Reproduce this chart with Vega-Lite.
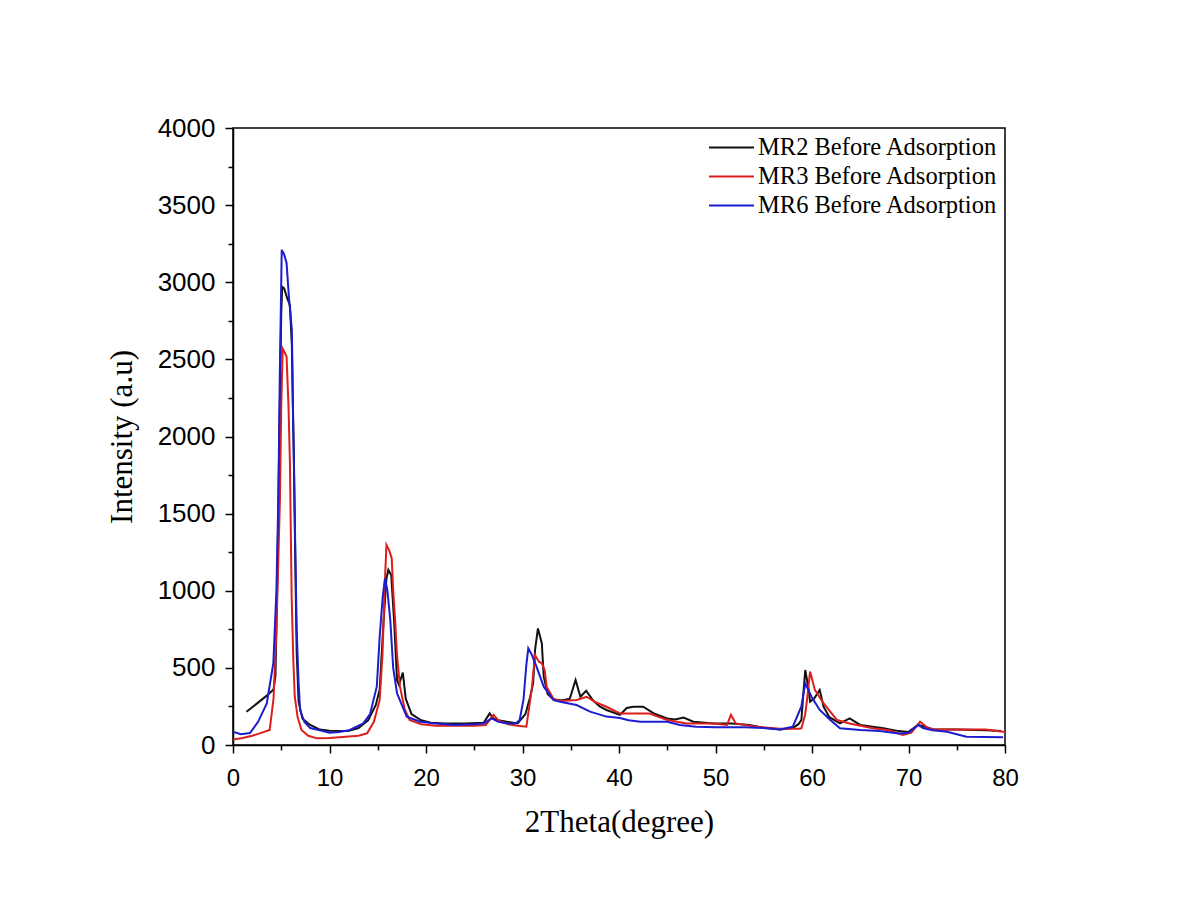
{
  "$schema": "https://vega.github.io/schema/vega-lite/v6.json",
  "width": 772,
  "height": 617,
  "autosize": {"type": "none"},
  "padding": {"left": 233, "top": 128, "right": 173, "bottom": 159},
  "background": "white",
  "config": {
    "view": {"stroke": "black", "strokeWidth": 1.5},
    "axis": {"grid": false, "labelColor": "black", "titleColor": "black", "domainColor": "black", "tickColor": "black"}
  },
  "data": {
    "values": [
      {"series": "MR2 Before Adsorption", "theta": 1.4, "intensity": 215},
      {"series": "MR2 Before Adsorption", "theta": 2.5, "intensity": 270},
      {"series": "MR2 Before Adsorption", "theta": 3.5, "intensity": 320},
      {"series": "MR2 Before Adsorption", "theta": 4.2, "intensity": 360},
      {"series": "MR2 Before Adsorption", "theta": 4.4, "intensity": 450},
      {"series": "MR2 Before Adsorption", "theta": 4.6, "intensity": 1100},
      {"series": "MR2 Before Adsorption", "theta": 4.8, "intensity": 2000},
      {"series": "MR2 Before Adsorption", "theta": 5.0, "intensity": 2800},
      {"series": "MR2 Before Adsorption", "theta": 5.1, "intensity": 2970},
      {"series": "MR2 Before Adsorption", "theta": 5.3, "intensity": 2960},
      {"series": "MR2 Before Adsorption", "theta": 5.6, "intensity": 2900},
      {"series": "MR2 Before Adsorption", "theta": 5.9, "intensity": 2850},
      {"series": "MR2 Before Adsorption", "theta": 6.1, "intensity": 2590},
      {"series": "MR2 Before Adsorption", "theta": 6.2, "intensity": 2200},
      {"series": "MR2 Before Adsorption", "theta": 6.3, "intensity": 1910},
      {"series": "MR2 Before Adsorption", "theta": 6.45, "intensity": 1200},
      {"series": "MR2 Before Adsorption", "theta": 6.6, "intensity": 600},
      {"series": "MR2 Before Adsorption", "theta": 6.8, "intensity": 280},
      {"series": "MR2 Before Adsorption", "theta": 7.2, "intensity": 170},
      {"series": "MR2 Before Adsorption", "theta": 8, "intensity": 130},
      {"series": "MR2 Before Adsorption", "theta": 9, "intensity": 100},
      {"series": "MR2 Before Adsorption", "theta": 10, "intensity": 92},
      {"series": "MR2 Before Adsorption", "theta": 11, "intensity": 90},
      {"series": "MR2 Before Adsorption", "theta": 12, "intensity": 92},
      {"series": "MR2 Before Adsorption", "theta": 13, "intensity": 110},
      {"series": "MR2 Before Adsorption", "theta": 14, "intensity": 160},
      {"series": "MR2 Before Adsorption", "theta": 14.8, "intensity": 260},
      {"series": "MR2 Before Adsorption", "theta": 15.2, "intensity": 360},
      {"series": "MR2 Before Adsorption", "theta": 15.6, "intensity": 800},
      {"series": "MR2 Before Adsorption", "theta": 15.9, "intensity": 1080},
      {"series": "MR2 Before Adsorption", "theta": 16.1, "intensity": 1135},
      {"series": "MR2 Before Adsorption", "theta": 16.4, "intensity": 1100},
      {"series": "MR2 Before Adsorption", "theta": 16.7, "intensity": 800},
      {"series": "MR2 Before Adsorption", "theta": 17.0, "intensity": 420},
      {"series": "MR2 Before Adsorption", "theta": 17.2, "intensity": 390},
      {"series": "MR2 Before Adsorption", "theta": 17.6, "intensity": 470},
      {"series": "MR2 Before Adsorption", "theta": 17.9, "intensity": 300},
      {"series": "MR2 Before Adsorption", "theta": 18.5, "intensity": 200},
      {"series": "MR2 Before Adsorption", "theta": 19.5, "intensity": 160},
      {"series": "MR2 Before Adsorption", "theta": 20.5, "intensity": 145},
      {"series": "MR2 Before Adsorption", "theta": 22, "intensity": 140},
      {"series": "MR2 Before Adsorption", "theta": 24, "intensity": 140},
      {"series": "MR2 Before Adsorption", "theta": 26, "intensity": 145},
      {"series": "MR2 Before Adsorption", "theta": 26.6, "intensity": 205},
      {"series": "MR2 Before Adsorption", "theta": 27, "intensity": 170},
      {"series": "MR2 Before Adsorption", "theta": 27.5, "intensity": 160},
      {"series": "MR2 Before Adsorption", "theta": 28.5, "intensity": 150},
      {"series": "MR2 Before Adsorption", "theta": 29.5, "intensity": 140},
      {"series": "MR2 Before Adsorption", "theta": 30.3, "intensity": 200},
      {"series": "MR2 Before Adsorption", "theta": 30.8, "intensity": 313},
      {"series": "MR2 Before Adsorption", "theta": 31.1, "intensity": 400},
      {"series": "MR2 Before Adsorption", "theta": 31.3, "intensity": 616},
      {"series": "MR2 Before Adsorption", "theta": 31.6, "intensity": 756},
      {"series": "MR2 Before Adsorption", "theta": 32.0, "intensity": 660},
      {"series": "MR2 Before Adsorption", "theta": 32.2, "intensity": 443},
      {"series": "MR2 Before Adsorption", "theta": 32.6, "intensity": 330},
      {"series": "MR2 Before Adsorption", "theta": 33.3, "intensity": 290},
      {"series": "MR2 Before Adsorption", "theta": 34.2, "intensity": 290},
      {"series": "MR2 Before Adsorption", "theta": 34.9, "intensity": 300},
      {"series": "MR2 Before Adsorption", "theta": 35.5, "intensity": 421},
      {"series": "MR2 Before Adsorption", "theta": 36.0, "intensity": 313},
      {"series": "MR2 Before Adsorption", "theta": 36.6, "intensity": 352},
      {"series": "MR2 Before Adsorption", "theta": 37.3, "intensity": 290},
      {"series": "MR2 Before Adsorption", "theta": 38.0, "intensity": 250},
      {"series": "MR2 Before Adsorption", "theta": 38.7, "intensity": 227},
      {"series": "MR2 Before Adsorption", "theta": 40.1, "intensity": 195},
      {"series": "MR2 Before Adsorption", "theta": 40.8, "intensity": 240},
      {"series": "MR2 Before Adsorption", "theta": 41.5, "intensity": 248},
      {"series": "MR2 Before Adsorption", "theta": 42.5, "intensity": 248},
      {"series": "MR2 Before Adsorption", "theta": 43.6, "intensity": 205},
      {"series": "MR2 Before Adsorption", "theta": 45, "intensity": 172},
      {"series": "MR2 Before Adsorption", "theta": 45.8, "intensity": 165},
      {"series": "MR2 Before Adsorption", "theta": 46.7, "intensity": 178},
      {"series": "MR2 Before Adsorption", "theta": 47.7, "intensity": 151},
      {"series": "MR2 Before Adsorption", "theta": 49.8, "intensity": 140},
      {"series": "MR2 Before Adsorption", "theta": 51.7, "intensity": 140},
      {"series": "MR2 Before Adsorption", "theta": 53.5, "intensity": 130},
      {"series": "MR2 Before Adsorption", "theta": 55, "intensity": 112},
      {"series": "MR2 Before Adsorption", "theta": 56.7, "intensity": 100},
      {"series": "MR2 Before Adsorption", "theta": 58, "intensity": 110},
      {"series": "MR2 Before Adsorption", "theta": 58.6, "intensity": 135},
      {"series": "MR2 Before Adsorption", "theta": 58.9, "intensity": 162},
      {"series": "MR2 Before Adsorption", "theta": 59.1, "intensity": 330},
      {"series": "MR2 Before Adsorption", "theta": 59.3, "intensity": 486},
      {"series": "MR2 Before Adsorption", "theta": 59.6, "intensity": 380},
      {"series": "MR2 Before Adsorption", "theta": 59.8, "intensity": 281},
      {"series": "MR2 Before Adsorption", "theta": 60.2, "intensity": 300},
      {"series": "MR2 Before Adsorption", "theta": 60.8, "intensity": 357},
      {"series": "MR2 Before Adsorption", "theta": 61.2, "intensity": 248},
      {"series": "MR2 Before Adsorption", "theta": 61.8, "intensity": 180},
      {"series": "MR2 Before Adsorption", "theta": 62.9, "intensity": 140},
      {"series": "MR2 Before Adsorption", "theta": 63.9, "intensity": 172},
      {"series": "MR2 Before Adsorption", "theta": 65, "intensity": 130},
      {"series": "MR2 Before Adsorption", "theta": 67.4, "intensity": 108},
      {"series": "MR2 Before Adsorption", "theta": 69, "intensity": 90},
      {"series": "MR2 Before Adsorption", "theta": 70, "intensity": 85},
      {"series": "MR2 Before Adsorption", "theta": 71, "intensity": 130},
      {"series": "MR2 Before Adsorption", "theta": 71.6, "intensity": 120},
      {"series": "MR2 Before Adsorption", "theta": 72.6, "intensity": 100},
      {"series": "MR2 Before Adsorption", "theta": 75, "intensity": 100},
      {"series": "MR2 Before Adsorption", "theta": 78, "intensity": 95},
      {"series": "MR2 Before Adsorption", "theta": 79.6, "intensity": 90},

      {"series": "MR3 Before Adsorption", "theta": 0, "intensity": 35},
      {"series": "MR3 Before Adsorption", "theta": 1, "intensity": 45},
      {"series": "MR3 Before Adsorption", "theta": 2, "intensity": 60},
      {"series": "MR3 Before Adsorption", "theta": 3, "intensity": 80},
      {"series": "MR3 Before Adsorption", "theta": 3.8, "intensity": 97},
      {"series": "MR3 Before Adsorption", "theta": 4.2, "intensity": 300},
      {"series": "MR3 Before Adsorption", "theta": 4.5, "intensity": 745},
      {"series": "MR3 Before Adsorption", "theta": 4.87, "intensity": 1610},
      {"series": "MR3 Before Adsorption", "theta": 5.0, "intensity": 2200},
      {"series": "MR3 Before Adsorption", "theta": 5.15, "intensity": 2570},
      {"series": "MR3 Before Adsorption", "theta": 5.4, "intensity": 2540},
      {"series": "MR3 Before Adsorption", "theta": 5.55, "intensity": 2520},
      {"series": "MR3 Before Adsorption", "theta": 5.75, "intensity": 2200},
      {"series": "MR3 Before Adsorption", "theta": 5.9, "intensity": 1825},
      {"series": "MR3 Before Adsorption", "theta": 6.08, "intensity": 960},
      {"series": "MR3 Before Adsorption", "theta": 6.25, "intensity": 550},
      {"series": "MR3 Before Adsorption", "theta": 6.4, "intensity": 313},
      {"series": "MR3 Before Adsorption", "theta": 6.7, "intensity": 180},
      {"series": "MR3 Before Adsorption", "theta": 7.1, "intensity": 97},
      {"series": "MR3 Before Adsorption", "theta": 7.8, "intensity": 60},
      {"series": "MR3 Before Adsorption", "theta": 8.7, "intensity": 43},
      {"series": "MR3 Before Adsorption", "theta": 10, "intensity": 45},
      {"series": "MR3 Before Adsorption", "theta": 11, "intensity": 50},
      {"series": "MR3 Before Adsorption", "theta": 12, "intensity": 55},
      {"series": "MR3 Before Adsorption", "theta": 13, "intensity": 60},
      {"series": "MR3 Before Adsorption", "theta": 13.9, "intensity": 76},
      {"series": "MR3 Before Adsorption", "theta": 14.6, "intensity": 150},
      {"series": "MR3 Before Adsorption", "theta": 15.2, "intensity": 292},
      {"series": "MR3 Before Adsorption", "theta": 15.5, "intensity": 595},
      {"series": "MR3 Before Adsorption", "theta": 15.7, "intensity": 1000},
      {"series": "MR3 Before Adsorption", "theta": 15.9, "intensity": 1297},
      {"series": "MR3 Before Adsorption", "theta": 16.2, "intensity": 1260},
      {"series": "MR3 Before Adsorption", "theta": 16.45, "intensity": 1210},
      {"series": "MR3 Before Adsorption", "theta": 16.6, "intensity": 1000},
      {"series": "MR3 Before Adsorption", "theta": 16.8, "intensity": 810},
      {"series": "MR3 Before Adsorption", "theta": 17.0, "intensity": 580},
      {"series": "MR3 Before Adsorption", "theta": 17.3, "intensity": 378},
      {"series": "MR3 Before Adsorption", "theta": 17.8, "intensity": 230},
      {"series": "MR3 Before Adsorption", "theta": 18.3, "intensity": 162},
      {"series": "MR3 Before Adsorption", "theta": 19.5, "intensity": 135},
      {"series": "MR3 Before Adsorption", "theta": 21, "intensity": 125},
      {"series": "MR3 Before Adsorption", "theta": 23, "intensity": 125},
      {"series": "MR3 Before Adsorption", "theta": 25, "intensity": 125},
      {"series": "MR3 Before Adsorption", "theta": 26.2, "intensity": 130},
      {"series": "MR3 Before Adsorption", "theta": 27, "intensity": 195},
      {"series": "MR3 Before Adsorption", "theta": 27.5, "intensity": 160},
      {"series": "MR3 Before Adsorption", "theta": 28.5, "intensity": 135},
      {"series": "MR3 Before Adsorption", "theta": 29.5, "intensity": 125},
      {"series": "MR3 Before Adsorption", "theta": 30.4, "intensity": 119},
      {"series": "MR3 Before Adsorption", "theta": 30.95, "intensity": 357},
      {"series": "MR3 Before Adsorption", "theta": 31.3, "intensity": 583},
      {"series": "MR3 Before Adsorption", "theta": 31.7, "intensity": 540},
      {"series": "MR3 Before Adsorption", "theta": 32, "intensity": 530},
      {"series": "MR3 Before Adsorption", "theta": 32.3, "intensity": 486},
      {"series": "MR3 Before Adsorption", "theta": 32.5, "intensity": 378},
      {"series": "MR3 Before Adsorption", "theta": 33.2, "intensity": 300},
      {"series": "MR3 Before Adsorption", "theta": 34, "intensity": 285},
      {"series": "MR3 Before Adsorption", "theta": 35.6, "intensity": 292},
      {"series": "MR3 Before Adsorption", "theta": 36.65, "intensity": 313},
      {"series": "MR3 Before Adsorption", "theta": 37.5, "intensity": 280},
      {"series": "MR3 Before Adsorption", "theta": 38.7, "intensity": 248},
      {"series": "MR3 Before Adsorption", "theta": 40.1, "intensity": 205},
      {"series": "MR3 Before Adsorption", "theta": 41.8, "intensity": 205},
      {"series": "MR3 Before Adsorption", "theta": 43.1, "intensity": 205},
      {"series": "MR3 Before Adsorption", "theta": 45, "intensity": 162},
      {"series": "MR3 Before Adsorption", "theta": 47, "intensity": 140},
      {"series": "MR3 Before Adsorption", "theta": 49.8, "intensity": 140},
      {"series": "MR3 Before Adsorption", "theta": 51.2, "intensity": 130},
      {"series": "MR3 Before Adsorption", "theta": 51.6, "intensity": 195},
      {"series": "MR3 Before Adsorption", "theta": 52.1, "intensity": 140},
      {"series": "MR3 Before Adsorption", "theta": 54.2, "intensity": 119},
      {"series": "MR3 Before Adsorption", "theta": 56.7, "intensity": 105},
      {"series": "MR3 Before Adsorption", "theta": 58.6, "intensity": 105},
      {"series": "MR3 Before Adsorption", "theta": 58.9, "intensity": 108},
      {"series": "MR3 Before Adsorption", "theta": 59.3, "intensity": 200},
      {"series": "MR3 Before Adsorption", "theta": 59.5, "intensity": 300},
      {"series": "MR3 Before Adsorption", "theta": 59.8, "intensity": 476},
      {"series": "MR3 Before Adsorption", "theta": 60.3, "intensity": 357},
      {"series": "MR3 Before Adsorption", "theta": 61.2, "intensity": 270},
      {"series": "MR3 Before Adsorption", "theta": 62.6, "intensity": 162},
      {"series": "MR3 Before Adsorption", "theta": 63.9, "intensity": 140},
      {"series": "MR3 Before Adsorption", "theta": 66.3, "intensity": 108},
      {"series": "MR3 Before Adsorption", "theta": 68, "intensity": 95},
      {"series": "MR3 Before Adsorption", "theta": 69.4, "intensity": 65},
      {"series": "MR3 Before Adsorption", "theta": 70.3, "intensity": 80},
      {"series": "MR3 Before Adsorption", "theta": 71.2, "intensity": 151},
      {"series": "MR3 Before Adsorption", "theta": 72, "intensity": 110},
      {"series": "MR3 Before Adsorption", "theta": 72.6, "intensity": 100},
      {"series": "MR3 Before Adsorption", "theta": 75, "intensity": 100},
      {"series": "MR3 Before Adsorption", "theta": 78, "intensity": 100},
      {"series": "MR3 Before Adsorption", "theta": 80, "intensity": 85},

      {"series": "MR6 Before Adsorption", "theta": 0, "intensity": 86},
      {"series": "MR6 Before Adsorption", "theta": 0.8, "intensity": 70},
      {"series": "MR6 Before Adsorption", "theta": 1.76, "intensity": 78},
      {"series": "MR6 Before Adsorption", "theta": 2.6, "intensity": 150},
      {"series": "MR6 Before Adsorption", "theta": 3.5, "intensity": 270},
      {"series": "MR6 Before Adsorption", "theta": 4.18, "intensity": 530},
      {"series": "MR6 Before Adsorption", "theta": 4.5, "intensity": 1000},
      {"series": "MR6 Before Adsorption", "theta": 4.7, "intensity": 1610},
      {"series": "MR6 Before Adsorption", "theta": 4.85, "intensity": 2400},
      {"series": "MR6 Before Adsorption", "theta": 5.05, "intensity": 3210},
      {"series": "MR6 Before Adsorption", "theta": 5.3, "intensity": 3180},
      {"series": "MR6 Before Adsorption", "theta": 5.55, "intensity": 3125},
      {"series": "MR6 Before Adsorption", "theta": 5.8, "intensity": 2900},
      {"series": "MR6 Before Adsorption", "theta": 6.1, "intensity": 2690},
      {"series": "MR6 Before Adsorption", "theta": 6.25, "intensity": 2040},
      {"series": "MR6 Before Adsorption", "theta": 6.45, "intensity": 1300},
      {"series": "MR6 Before Adsorption", "theta": 6.6, "intensity": 745},
      {"series": "MR6 Before Adsorption", "theta": 6.8, "intensity": 400},
      {"series": "MR6 Before Adsorption", "theta": 6.95, "intensity": 227},
      {"series": "MR6 Before Adsorption", "theta": 7.4, "intensity": 150},
      {"series": "MR6 Before Adsorption", "theta": 8, "intensity": 110},
      {"series": "MR6 Before Adsorption", "theta": 9, "intensity": 95},
      {"series": "MR6 Before Adsorption", "theta": 10, "intensity": 80},
      {"series": "MR6 Before Adsorption", "theta": 11, "intensity": 85},
      {"series": "MR6 Before Adsorption", "theta": 12, "intensity": 95},
      {"series": "MR6 Before Adsorption", "theta": 13.5, "intensity": 140},
      {"series": "MR6 Before Adsorption", "theta": 14.2, "intensity": 200},
      {"series": "MR6 Before Adsorption", "theta": 14.9, "intensity": 378},
      {"series": "MR6 Before Adsorption", "theta": 15.2, "intensity": 702},
      {"series": "MR6 Before Adsorption", "theta": 15.5, "intensity": 950},
      {"series": "MR6 Before Adsorption", "theta": 15.75, "intensity": 1080},
      {"series": "MR6 Before Adsorption", "theta": 16.0, "intensity": 1000},
      {"series": "MR6 Before Adsorption", "theta": 16.3, "intensity": 810},
      {"series": "MR6 Before Adsorption", "theta": 16.6, "intensity": 500},
      {"series": "MR6 Before Adsorption", "theta": 17, "intensity": 335},
      {"series": "MR6 Before Adsorption", "theta": 18, "intensity": 184},
      {"series": "MR6 Before Adsorption", "theta": 19.4, "intensity": 151},
      {"series": "MR6 Before Adsorption", "theta": 21, "intensity": 140},
      {"series": "MR6 Before Adsorption", "theta": 23, "intensity": 130},
      {"series": "MR6 Before Adsorption", "theta": 25, "intensity": 135},
      {"series": "MR6 Before Adsorption", "theta": 26, "intensity": 140},
      {"series": "MR6 Before Adsorption", "theta": 26.8, "intensity": 172},
      {"series": "MR6 Before Adsorption", "theta": 27.5, "intensity": 150},
      {"series": "MR6 Before Adsorption", "theta": 28.5, "intensity": 140},
      {"series": "MR6 Before Adsorption", "theta": 29.3, "intensity": 140},
      {"series": "MR6 Before Adsorption", "theta": 29.7, "intensity": 162},
      {"series": "MR6 Before Adsorption", "theta": 30.1, "intensity": 292},
      {"series": "MR6 Before Adsorption", "theta": 30.4, "intensity": 520},
      {"series": "MR6 Before Adsorption", "theta": 30.6, "intensity": 627},
      {"series": "MR6 Before Adsorption", "theta": 31.0, "intensity": 580},
      {"series": "MR6 Before Adsorption", "theta": 31.45, "intensity": 508},
      {"series": "MR6 Before Adsorption", "theta": 32.2, "intensity": 378},
      {"series": "MR6 Before Adsorption", "theta": 33.2, "intensity": 292},
      {"series": "MR6 Before Adsorption", "theta": 33.9, "intensity": 281},
      {"series": "MR6 Before Adsorption", "theta": 35.6, "intensity": 259},
      {"series": "MR6 Before Adsorption", "theta": 37, "intensity": 216},
      {"series": "MR6 Before Adsorption", "theta": 38.7, "intensity": 184},
      {"series": "MR6 Before Adsorption", "theta": 40.1, "intensity": 175},
      {"series": "MR6 Before Adsorption", "theta": 41, "intensity": 160},
      {"series": "MR6 Before Adsorption", "theta": 42.2, "intensity": 151},
      {"series": "MR6 Before Adsorption", "theta": 45, "intensity": 151},
      {"series": "MR6 Before Adsorption", "theta": 46.3, "intensity": 130},
      {"series": "MR6 Before Adsorption", "theta": 48, "intensity": 118},
      {"series": "MR6 Before Adsorption", "theta": 50, "intensity": 115},
      {"series": "MR6 Before Adsorption", "theta": 53, "intensity": 115},
      {"series": "MR6 Before Adsorption", "theta": 55, "intensity": 110},
      {"series": "MR6 Before Adsorption", "theta": 56.7, "intensity": 100},
      {"series": "MR6 Before Adsorption", "theta": 58, "intensity": 118},
      {"series": "MR6 Before Adsorption", "theta": 58.9, "intensity": 250},
      {"series": "MR6 Before Adsorption", "theta": 59.3, "intensity": 400},
      {"series": "MR6 Before Adsorption", "theta": 59.95, "intensity": 313},
      {"series": "MR6 Before Adsorption", "theta": 60.8, "intensity": 227},
      {"series": "MR6 Before Adsorption", "theta": 61.9, "intensity": 162},
      {"series": "MR6 Before Adsorption", "theta": 62.9, "intensity": 108},
      {"series": "MR6 Before Adsorption", "theta": 65, "intensity": 97},
      {"series": "MR6 Before Adsorption", "theta": 67, "intensity": 90},
      {"series": "MR6 Before Adsorption", "theta": 69, "intensity": 75},
      {"series": "MR6 Before Adsorption", "theta": 70, "intensity": 80},
      {"series": "MR6 Before Adsorption", "theta": 71, "intensity": 130},
      {"series": "MR6 Before Adsorption", "theta": 71.5, "intensity": 110},
      {"series": "MR6 Before Adsorption", "theta": 72.5, "intensity": 95},
      {"series": "MR6 Before Adsorption", "theta": 74, "intensity": 86},
      {"series": "MR6 Before Adsorption", "theta": 76, "intensity": 54},
      {"series": "MR6 Before Adsorption", "theta": 79.8, "intensity": 50}
    ]
  },
  "layer": [
    {
      "mark": {"type": "line", "strokeWidth": 2, "clip": true},
      "encoding": {
        "x": {
          "field": "theta",
          "type": "quantitative",
          "scale": {"domain": [0, 80], "nice": false, "zero": false},
          "axis": {
            "orient": "bottom",
            "values": [0, 10, 20, 30, 40, 50, 60, 70, 80],
            "format": "d",
            "tickSize": 8,
            "tickWidth": 1.5,
            "domainWidth": 1.5,
            "labelFont": "Liberation Sans",
            "labelFontSize": 24,
            "labelPadding": 13,
            "labelFlush": false,
            "title": "2Theta(degree)",
            "titleFont": "Liberation Serif",
            "titleFontSize": 31,
            "titleFontWeight": "normal",
            "titlePadding": 17
          }
        },
        "y": {
          "field": "intensity",
          "type": "quantitative",
          "scale": {"domain": [0, 4000], "nice": false},
          "axis": {
            "orient": "left",
            "values": [0, 500, 1000, 1500, 2000, 2500, 3000, 3500, 4000],
            "format": "d",
            "tickSize": 8,
            "tickWidth": 1.5,
            "domainWidth": 1.5,
            "labelFont": "Liberation Sans",
            "labelFontSize": 26,
            "labelPadding": 10,
            "labelFlush": false,
            "title": "Intensity (a.u)",
            "titleFont": "Liberation Serif",
            "titleFontSize": 31,
            "titleFontWeight": "normal",
            "titlePadding": 19
          }
        },
        "color": {
          "field": "series",
          "type": "nominal",
          "scale": {
            "domain": ["MR2 Before Adsorption", "MR3 Before Adsorption", "MR6 Before Adsorption"],
            "range": ["#111111", "#dc1f1c", "#1c1cd0"]
          },
          "legend": {
            "title": null,
            "orient": "none",
            "legendX": 486,
            "legendY": 7,
            "padding": 0,
            "symbolType": "M-2,0H2",
            "symbolSize": 506,
            "symbolStrokeWidth": 2,
            "symbolFillColor": "transparent",
            "labelFont": "Liberation Serif",
            "labelFontSize": 24.5,
            "labelColor": "black",
            "labelOffset": 14,
            "rowPadding": 4,
            "labelLimit": 400
          }
        }
      }
    },
    {
      "mark": {"type": "point", "opacity": 0},
      "encoding": {
        "x": {
          "field": "theta",
          "type": "quantitative",
          "axis": {
            "orient": "bottom",
            "values": [5, 15, 25, 35, 45, 55, 65, 75],
            "tickSize": 5,
            "tickWidth": 1.5,
            "labels": false,
            "domain": false,
            "title": null
          }
        },
        "y": {
          "field": "intensity",
          "type": "quantitative",
          "axis": {
            "orient": "left",
            "values": [250, 750, 1250, 1750, 2250, 2750, 3250, 3750],
            "tickSize": 5,
            "tickWidth": 1.5,
            "labels": false,
            "domain": false,
            "title": null
          }
        }
      }
    }
  ],
  "resolve": {"axis": {"x": "independent", "y": "independent"}}
}
